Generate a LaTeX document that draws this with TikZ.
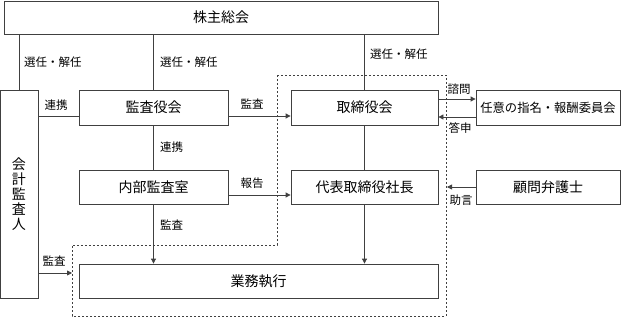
\documentclass[tikz,border=0pt]{standalone}
\usepackage{fontspec}
\setmainfont{Noto Sans CJK JP}
\usetikzlibrary{arrows.meta}

\tikzset{
  box/.style={draw=black!75, line width=0.8pt, inner sep=0pt,
    font=\fontsize{14}{15}\selectfont},
  lbl/.style={font=\fontsize{11.5}{12}\selectfont, inner sep=0pt},
  link/.style={draw=black!75, line width=0.8pt},
  arr/.style={link, -{Triangle[length=5pt,width=5pt]}},
}

\begin{document}
\begin{tikzpicture}[x=1pt, y=-1pt]
        \useasboundingbox (0,0) rectangle (624,318);
        % boxes
        \node[box, minimum width=434pt, minimum height=33pt] (soukai) at (221,17.5) {株主総会};
        \node[box, minimum width=38pt, minimum height=208pt, align=center] (kaikei) at (19,194) {会\\計\\監\\査\\人};
        \node[box, minimum width=149pt, minimum height=35pt] (kansa) at (153.5,107.5) {監査役会};
        \node[box, minimum width=147pt, minimum height=35pt] (torishimari) at (364.5,107.5) {取締役会};
        \node[box, minimum width=144pt, minimum height=35pt, font=\fontsize{12.3}{13}\selectfont] (iin) at (548,107.5) {任意の指名・報酬委員会};
        \node[box, minimum width=149pt, minimum height=34pt] (naibu) at (153.5,187) {内部監査室};
        \node[box, minimum width=147pt, minimum height=34pt] (daihyo) at (364.5,187) {代表取締役社長};
        \node[box, minimum width=144pt, minimum height=34pt] (komon) at (548,187) {顧問弁護士};
        \node[box, minimum width=359pt, minimum height=34pt] (gyomu) at (258.5,281) {業務執行};
        % dashed area
        \draw[black!75, line width=0.8pt, dash pattern=on 2pt off 2pt]
          (277,75) -- (446,75) -- (446,316) -- (72,316) -- (72,245) -- (277,245) -- cycle;
        \coordinate (edgeL) at (72,273);
        \coordinate (edgeR) at (447,187);
        % election lines
        \draw[link] (kaikei.north) -- (kaikei.north |- soukai.south);
        \draw[link] (kansa.north) -- (kansa.north |- soukai.south);
        \draw[link] (torishimari.north) -- (torishimari.north |- soukai.south);
        \node[lbl, anchor=west] (sen1) at (24,62) {選任・解任};
        \node[lbl, anchor=west] (sen2) at (160,62) {選任・解任};
        \node[lbl, anchor=west] (sen3) at (370,54) {選任・解任};
        % audit board
        \draw[link] ([yshift=-8.5pt]kansa.west) -- ([yshift=-8.5pt]kansa.west -| kaikei.east);
        \node[lbl] (renkei1) at (56,105) {連携};
        \draw[arr] ([yshift=-8.5pt]kansa.east) -- ([yshift=-8.5pt]torishimari.west);
        \node[lbl] (kansa1) at (252,104) {監査};
        \draw[link] (kansa.south) -- (naibu.north);
        \node[lbl, anchor=west] (renkei2) at (160,147) {連携};
        % internal audit
        \draw[arr] ([yshift=-8pt]naibu.east) -- ([yshift=-8pt]daihyo.west);
        \node[lbl] (houkoku) at (252,183) {報告};
        \draw[arr] (naibu.south) -- (naibu.south |- gyomu.north);
        \node[lbl, anchor=west] (kansa2) at (160,225) {監査};
        \draw[arr] (daihyo.south) -- (daihyo.south |- gyomu.north);
        \draw[link] (torishimari.south) -- (daihyo.north);
        % accounting auditor
        \draw[arr] (kaikei.east |- edgeL) -- (edgeL);
        \node[lbl] (kansa3) at (54,261) {監査};
        % committee
        \draw[arr] ([yshift=8.5pt]torishimari.east) -- ([yshift=8.5pt]iin.west);
        \node[lbl] (shimon) at (459,89) {諮問};
        \draw[arr] ([yshift=-9.5pt]iin.west) -- ([yshift=-9.5pt]torishimari.east);
        \node[lbl] (toushin) at (460,128) {答申};
        % lawyer
        \draw[arr] (komon.west) -- (edgeR);
        \node[lbl] (jogen) at (461,200) {助言};
\end{tikzpicture}
\end{document}
